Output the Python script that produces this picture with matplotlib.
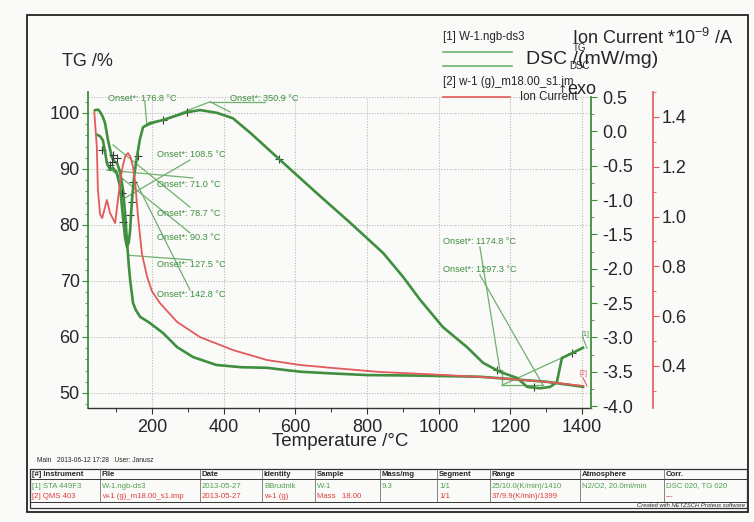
import matplotlib
matplotlib.use('Agg')
import matplotlib.pyplot as plt
from matplotlib.ticker import MultipleLocator, FixedLocator, FormatStrFormatter

plt.rcParams['font.family'] = ['Liberation Sans', 'DejaVu Sans']
plt.rcParams['mathtext.fontset'] = 'custom'
plt.rcParams['mathtext.rm'] = 'Liberation Sans'
plt.rcParams['mathtext.default'] = 'regular'
plt.rcParams['axes.unicode_minus'] = False

# ---------------- data ----------------
tg_temp = [41, 50, 55, 62, 69, 77, 88, 95, 102, 111, 119, 125, 130, 135, 139, 147, 155, 167,
           194, 231, 270, 315, 380, 450, 520, 613, 700, 800, 950, 1115, 1200, 1302, 1403]
tg_vals = [100.5, 100.6, 100.2, 99.4, 98.2, 95.2, 92.1, 91.3, 91.1, 89.5, 86.3, 82.0, 77.3, 73.0,
           70.2, 66.1, 64.8, 63.6, 62.5, 60.7, 58.2, 56.4, 55.0, 54.6, 54.5, 53.8, 53.5, 53.2,
           53.1, 52.9, 52.5, 52.0, 51.1]

dsc_temp = [47, 55, 63, 70, 74, 83, 91, 102, 111, 119, 125, 130, 135, 139, 144, 151, 158, 166,
            175, 194, 231, 298, 334, 381, 426, 474, 554, 660, 753, 845, 901, 948, 1012, 1079,
            1124, 1171, 1219, 1247, 1283, 1311, 1330, 1338, 1344, 1372, 1403]
dsc_vals = [-0.05, -0.07, -0.13, -0.33, -0.46, -0.56, -0.53, -0.61, -0.81, -1.25, -1.55, -1.68,
            -1.62, -1.44, -1.0, -0.62, -0.37, -0.12, 0.06, 0.12, 0.165, 0.28, 0.31, 0.27, 0.19,
            -0.02, -0.40, -0.90, -1.33, -1.77, -2.12, -2.45, -2.85, -3.14, -3.37, -3.50, -3.59,
            -3.72, -3.74, -3.72, -3.65, -3.45, -3.30, -3.23, -3.15]

ic_temp = [39, 46, 49, 55, 61, 69, 74, 83, 97, 105, 112, 119, 126, 133, 140, 147, 154, 161, 172,
           186, 200, 222, 270, 334, 426, 521, 613, 705, 836, 1000, 1115, 1200, 1302, 1403]
ic_vals = [1.42, 1.28, 1.11, 1.01, 0.994, 1.038, 1.067, 1.014, 0.974, 1.067, 1.15, 1.207, 1.245,
           1.255, 1.24, 1.2, 1.12, 1.0, 0.85, 0.76, 0.70, 0.653, 0.577, 0.516, 0.464, 0.424,
           0.404, 0.392, 0.376, 0.365, 0.356, 0.348, 0.336, 0.32]

x_ticks = [200, 400, 600, 800, 1000, 1200, 1400]
tg_ticks = [50, 60, 70, 80, 90, 100]
dsc_ticks = [0.5, 0.0, -0.5, -1.0, -1.5, -2.0, -2.5, -3.0, -3.5, -4.0]
ic_ticks = [0.4, 0.6, 0.8, 1.0, 1.2, 1.4]

onset_labels = ['Onset*: 176.8 °C', 'Onset*: 350.9 °C', 'Onset*: 108.5 °C', 'Onset*: 71.0 °C',
                'Onset*: 78.7 °C', 'Onset*: 90.3 °C', 'Onset*: 127.5 °C', 'Onset*: 142.8 °C',
                'Onset*: 1174.8 °C', 'Onset*: 1297.3 °C']
onset_T = [77, 418, 214, 214, 214, 214, 214, 214, 1012, 1012]
onset_TG = [102.5, 102.5, 92.5, 87.3, 82.1, 77.7, 72.9, 67.5, 77.1, 72.1]

ann_lines = [((180, 102.0), (186, 97.7)), ((186, 97.7), (362, 102.0)), ((362, 102.0), (515, 102.0)),
             ((362, 102.0), (418, 100.2)), ((306, 91.6), (116, 84.5)), ((74, 89.8), (314, 88.4)),
             ((91, 94.3), (306, 83.2)), ((88, 89.8), (306, 78.6)), ((133, 74.6), (312, 73.75)),
             ((153, 88.0), (306, 68.4)), ((1115, 76.1), (1171, 54.1)), ((1177, 54.1), (1177, 51.4)),
             ((1177, 51.4), (1291, 51.4)), ((1177, 51.4), (1372, 57.1)), ((1115, 71.1), (1291, 51.4)),
             ((1403, 59.8), (1414, 58.0))]
ann_red_lines = [((1403, 52.7), (1414, 51.25))]

plus_T = [60, 88, 91, 102, 83, 116, 119, 139, 144, 147, 161, 231, 298, 554, 1163, 1266, 1372]
plus_TG = [93.4, 91.25, 92.5, 92.0, 90.7, 85.7, 80.5, 81.8, 84.1, 87.7, 92.3, 98.75, 100.2, 91.8,
           54.1, 51.1, 57.1]

table_header = ['[#] Instrument', 'File', 'Date', 'Identity', 'Sample', 'Mass/mg', 'Segment',
                'Range', 'Atmosphere', 'Corr.']
table_row1 = ['[1] STA 449F3', 'W-1.ngb-ds3', '2013-05-27', 'BBrudnik', 'W-1', '9.3', '1/1',
              '25/10.0(K/min)/1410', 'N2/O2, 20.0ml/min', 'DSC 020, TG 020']
table_row2 = ['[2] QMS 403', 'w-1 (g)_m18.00_s1.imp', '2013-05-27', 'w-1 (g)', 'Mass   18.00', '',
              '1/1', '37/9.9(K/min)/1399', '', '---']

# ---------------- figure ----------------
W, H = 754, 522
fig = plt.figure(figsize=(W / 100, H / 100), dpi=100)
fig.patch.set_facecolor('#fafaf8')

GREEN = '#3f8f3f'
LGREEN = '#6fb06f'
RED = '#e25a5a'
TXT = '#262626'

ax = fig.add_axes([88 / W, 1 - 408 / H, 503 / W, 316 / H])
ax.set_facecolor('none')
ax.set_xlim(21.4, 1425.2)
ax.set_ylim(47.32, 103.75)
ax2 = ax.twinx()
ax2.set_ylim(-4.027, 0.573)
ax3 = ax.twinx()
ax3.set_ylim(0.2313, 1.5004)

# grid
gcol = '#b8b8b8'
ax.vlines(x_ticks, 47.32, 102.86, colors=gcol, linestyles=(0, (1, 1.5)), linewidth=0.8, zorder=0)
ax.hlines(tg_ticks + [102.86], 21.4, 1425.2, colors=gcol, linestyles=(0, (1, 1.5)), linewidth=0.8, zorder=0)

# spines
for s in ['top', 'right']:
    ax.spines[s].set_visible(False)
ax.spines['left'].set_color(GREEN)
ax.spines['left'].set_linewidth(1.3)
ax.spines['bottom'].set_color('#333333')
ax.spines['bottom'].set_linewidth(1.0)
for a in (ax2, ax3):
    for s in ['top', 'left', 'bottom']:
        a.spines[s].set_visible(False)
ax2.spines['right'].set_color(GREEN)
ax2.spines['right'].set_linewidth(1.3)
ax2.spines['right'].set_bounds(-4.027, 0.5)
ax3.spines['right'].set_color(RED)
ax3.spines['right'].set_linewidth(1.2)
ax3.spines['right'].set_position(('axes', (653 - 88) / 503))

# ticks
ax.xaxis.set_major_locator(FixedLocator(x_ticks))
ax.xaxis.set_minor_locator(MultipleLocator(100))
ax.tick_params(axis='x', which='both', direction='out', color='#333333', labelsize=13,
               labelcolor=TXT, pad=4)
ax.tick_params(axis='x', which='major', length=4, width=0.8)
ax.tick_params(axis='x', which='minor', length=3, width=0.7)
ax.yaxis.set_major_locator(FixedLocator(tg_ticks))
ax.yaxis.set_minor_locator(MultipleLocator(2))
ax.tick_params(axis='y', which='both', direction='out', color=GREEN, labelsize=13,
               labelcolor=TXT, pad=2)
ax.tick_params(axis='y', which='major', length=4, width=0.8)
ax.tick_params(axis='y', which='minor', length=2, width=0.6)

ax2.yaxis.set_major_locator(FixedLocator(dsc_ticks))
ax2.yaxis.set_minor_locator(MultipleLocator(0.25))
ax2.yaxis.set_major_formatter(FormatStrFormatter('%.1f'))
ax2.tick_params(axis='y', which='both', direction='out', color=GREEN, labelsize=13,
                labelcolor=TXT, pad=4)
ax2.tick_params(axis='y', which='major', length=4, width=0.8)
ax2.tick_params(axis='y', which='minor', length=2, width=0.6)

ax3.yaxis.set_major_locator(FixedLocator(ic_ticks))
ax3.yaxis.set_minor_locator(FixedLocator([0.3, 0.5, 0.7, 0.9, 1.1, 1.3, 1.5]))
ax3.yaxis.set_major_formatter(FormatStrFormatter('%.1f'))
ax3.tick_params(axis='y', which='both', direction='out', color=RED, labelsize=13,
                labelcolor=TXT, pad=2)
ax3.tick_params(axis='y', which='major', length=4, width=0.8)
ax3.tick_params(axis='y', which='minor', length=2, width=0.6)

# annotations (onset constructions)
for (p0, p1) in ann_lines:
    ax.plot([p0[0], p1[0]], [p0[1], p1[1]], color=LGREEN, lw=0.9, zorder=2)
for (p0, p1) in ann_red_lines:
    ax.plot([p0[0], p1[0]], [p0[1], p1[1]], color=RED, lw=0.8, zorder=2)
for t, v, s in zip(onset_T, onset_TG, onset_labels):
    ax.text(t, v, s, fontsize=6.6, color=GREEN, va='center', ha='left', zorder=3)
ax.text(1398, 60.4, '[1]', fontsize=5, color=GREEN, ha='left', va='center')
ax.text(1394, 53.4, '[2]', fontsize=5, color=RED, ha='left', va='center')
ax.plot(plus_T, plus_TG, linestyle='none', marker='+', color='#3a3a3a', ms=6, mew=0.8, zorder=4)

# curves
ax3.plot(ic_temp, ic_vals, color=RED, lw=1.3, zorder=2)
ax.plot(tg_temp, tg_vals, color=GREEN, lw=1.9, zorder=3)
ax2.plot(dsc_temp, dsc_vals, color=GREEN, lw=1.9, zorder=3)

# ---------------- overlay (labels, legend, frame, table) ----------------
ov = fig.add_axes([0, 0, 1, 1])
ov.set_xlim(0, W)
ov.set_ylim(H, 0)
ov.axis('off')
ov.patch.set_alpha(0)

ov.add_patch(plt.Rectangle((27, 15), 721, 497, fill=False, ec='#222222', lw=1.3))
ov.text(62, 62, 'TG /%', fontsize=13, color=TXT, va='center', ha='left')
ov.text(340, 442, 'Temperature /°C', fontsize=13.5, color=TXT, va='center', ha='center')
ov.text(572, 38, 'Ion Current *10$^{-9}$ /A', fontsize=13, color=TXT, va='center', ha='left')
ov.text(526, 60, 'DSC /(mW/mg)', fontsize=14, color=TXT, va='center', ha='left')
ov.text(580, 48, 'TG', fontsize=7, color=TXT, va='center', ha='center')
ov.text(580, 66, 'DSC', fontsize=7, color=TXT, va='center', ha='center')
ov.text(567, 90, 'exo', fontsize=13, color=TXT, va='center', ha='left')
ov.text(562, 90, '↑', fontsize=8, color=TXT, va='center', ha='center', family='DejaVu Sans')

ov.text(443, 37, '[1] W-1.ngb-ds3', fontsize=8.3, color=TXT, va='center', ha='left')
ov.plot([443, 512], [52, 52], color=LGREEN, lw=1.2)
ov.plot([443, 512], [66, 66], color=LGREEN, lw=1.2)
ov.text(443, 82, '[2] w-1 (g)_m18.00_s1.im', fontsize=8.3, color=TXT, va='center', ha='left')
ov.plot([443, 510], [97, 97], color=RED, lw=1.2)
ov.text(520, 97, 'Ion Current', fontsize=8.3, color=TXT, va='center', ha='left')

ov.text(37, 460, 'Main   2013-06-12 17:28   User: Janusz', fontsize=4.8, color=TXT, va='center', ha='left')

# table
col_x = [30, 100, 200, 262, 315, 380, 437, 490, 580, 664]
tl, tr, tt, th, tdb, tb = 30, 747, 469, 479, 502, 508
ov.add_patch(plt.Rectangle((tl, tt), tr - tl, tb - tt, fill=False, ec='#333333', lw=0.9))
ov.plot([tl, tr], [th, th], color='#333333', lw=0.7)
ov.plot([tl, tr], [tdb, tdb], color='#333333', lw=0.7)
for cx in col_x[1:]:
    ov.plot([cx, cx], [tt, tdb], color='#555555', lw=0.5)
for cx, h, r1, r2 in zip(col_x, table_header, table_row1, table_row2):
    ov.text(cx + 2, 474, h, fontsize=5.6, fontweight='bold', color=TXT, va='center', ha='left')
    ov.text(cx + 2, 486, r1, fontsize=5.6, color='#4fa04f', va='center', ha='left')
    ov.text(cx + 2, 497, r2, fontsize=5.6, color='#e03c3c', va='center', ha='left')
ov.text(745, 505.5, 'Created with NETZSCH Proteus software', fontsize=4.2, style='italic',
        color=TXT, va='center', ha='right')

fig.savefig('out.png', dpi=100, facecolor=fig.get_facecolor())
